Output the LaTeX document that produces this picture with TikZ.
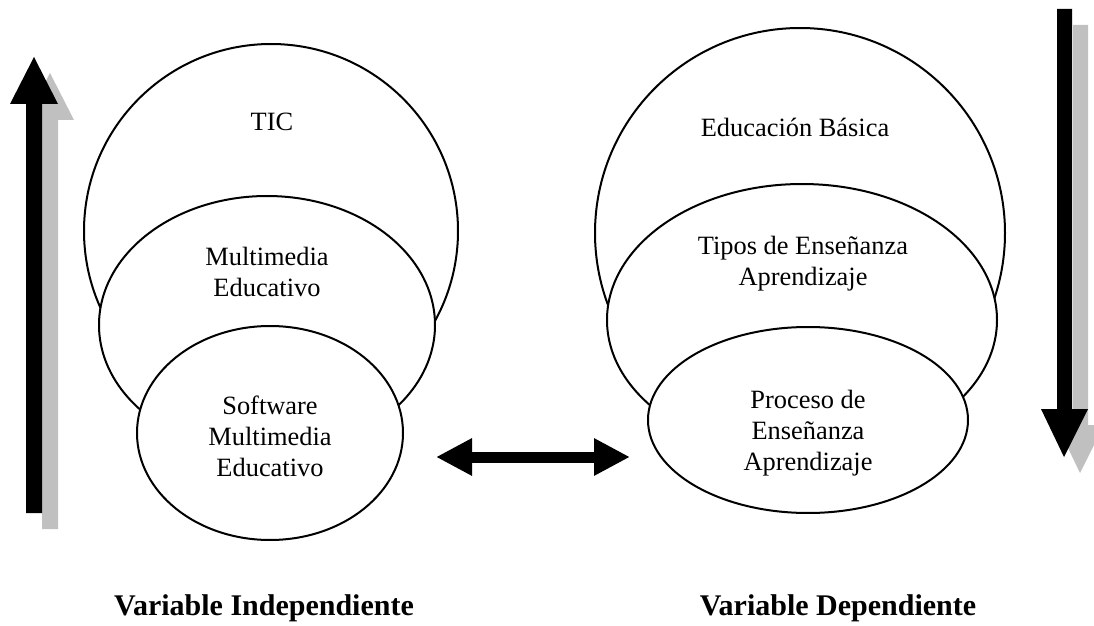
\documentclass[tikz,border=0pt]{standalone}
\usepackage{fontspec}
\setmainfont{Liberation Serif}
\usepackage{xcolor}
\definecolor{shadowgray}{RGB}{192,192,192}
\usetikzlibrary{shapes.geometric, arrows.meta}
\tikzset{
  bubble/.style={draw, ellipse, fill=white, line width=1pt, inner sep=0pt, outer sep=0pt},
  txt/.style={align=center, inner sep=0pt, font=\fontsize{13.2pt}{15.5pt}\selectfont},
  varname/.style={inner sep=0pt, font=\fontsize{15pt}{18pt}\selectfont\bfseries},
  dblarrow/.style={line width=5.5pt, {Triangle[length=18pt,width=17.5pt]}-{Triangle[length=18pt,width=17.5pt]}}
}

\begin{document}
\begin{tikzpicture}[x=0.5pt, y=-0.5pt]
  \useasboundingbox (0,0) rectangle (1094,626);
  \clip (0,0) rectangle (1094,626);
  % left side: independent variable
  \node[bubble, minimum width=187pt, minimum height=187pt] (tic) at (271,231) {};
  \node[bubble, minimum width=168pt, minimum height=129pt] (mme) at (267,325) {};
  \node[bubble, minimum width=133pt, minimum height=107pt] (sme) at (270,433) {};
  \node[txt] (tictxt) at (272,122) {TIC};
  \node[txt] (mmetxt) at (267,272) {Multimedia\\Educativo};
  \node[txt] (smetxt) at (270,436) {Software\\Multimedia\\Educativo};
  % right side: dependent variable
  \node[bubble, minimum width=205pt, minimum height=205pt] (eb) at (800,233) {};
  \node[bubble, minimum width=195pt, minimum height=136pt] (tea) at (802,320) {};
  \node[bubble, minimum width=160pt, minimum height=93pt] (pea) at (808,420) {};
  \node[txt] (ebtxt) at (795,127) {Educación Básica};
  \node[txt] (teatxt) at (803,264) {Tipos de Enseñanza\\Aprendizaje};
  \node[txt] (peatxt) at (808,433) {Proceso de\\Enseñanza\\Aprendizaje};
  % relation between both
  \coordinate (la) at ([shift={(33,24)}]sme.east);
  \coordinate (ra) at ([shift={(-18,37)}]pea.west);
  \draw[dblarrow] (la) -- (ra);
  % block arrows with shadow
  \foreach \d/\c in {16/shadowgray, 0/black}{
    \fill[\c, shift={(\d,\d)}] (26,513) -- (26,104) -- (10,104) -- (34,57) -- (58,104) -- (42,104) -- (42,513) -- cycle;
    \fill[\c, shift={(\d,\d)}] (1057,9) -- (1057,409) -- (1041,409) -- (1064,457) -- (1088,409) -- (1072,409) -- (1072,9) -- cycle;
  }
  \node[varname] (vi) at (264,608) {Variable Independiente};
  \node[varname] (vd) at (838,608) {Variable Dependiente};
\end{tikzpicture}
\end{document}
